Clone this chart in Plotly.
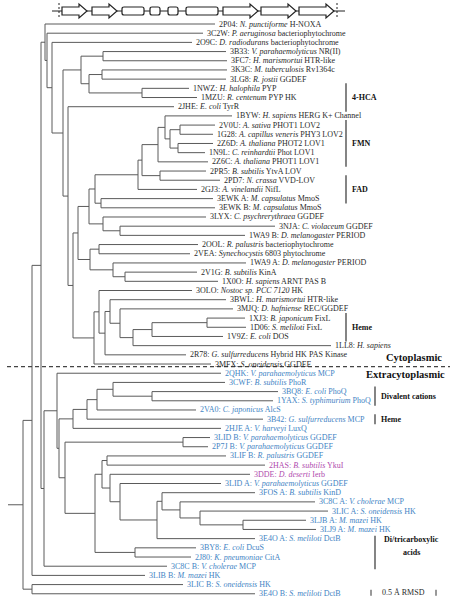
import plotly.graph_objects as go

# ---------------- data ----------------
leaf_ids = ["2P04", "3C2W", "2O9C", "3B33", "3FC7", "3K3C", "3LG8", "1NWZ", "1MZU", "2JHE",
            "1BYW", "2V0U", "1G28", "2Z6D", "1N9L", "2Z6C", "2PR5", "2PD7", "2GJ3", "3EWK A",
            "3EWK B", "3LYX", "3NJA", "1WA9 B", "2OOL", "2VEA", "1WA9 A", "2V1G", "1X0O", "3OLO",
            "3BWL", "3MJQ", "1XJ3", "1D06", "1V9Z", "1LL8", "2R78", "3MFX",
            "2QHK", "3CWF", "3BQ8", "1YAX", "2VA0", "3B42", "2HJE A", "3LID B", "2P7J B", "3LIF B",
            "2HAS", "3DDE", "3LID A", "3FOS A", "3C8C A", "3LIC A", "3LJB A", "3LJ9 A", "3E4O A",
            "3BY8", "2J80", "3C8C B", "3LIB B", "3LIC B", "3E4O B"]

leaf_desc = ["<i>N. punctiforme</i> H-NOXA", "<i>P. aeruginosa</i> bacteriophytochrome",
             "<i>D. radiodurans</i> bacteriophytochrome", "<i>V. parahaemolyticus</i> NR(II)",
             "<i>H. marismortui</i> HTR-like", "<i>M. tuberculosis</i> Rv1364c", "<i>R. jostii</i> GGDEF",
             "<i>H. halophila</i> PYP", "<i>R. centenum</i> PYP HK", "<i>E. coli</i> TyrR",
             "<i>H. sapiens</i> HERG K+ Channel", "<i>A. sativa</i> PHOT1 LOV2",
             "<i>A. capillus veneris</i> PHY3 LOV2", "<i>A. thaliana</i> PHOT2 LOV1",
             "<i>C. reinhardtii</i> Phot LOV1", "<i>A. thaliana</i> PHOT1 LOV1", "<i>B. subtilis</i> YtvA LOV",
             "<i>N. crassa</i> VVD-LOV", "<i>A. vinelandii</i> NifL", "<i>M. capsulatus</i> MmoS",
             "<i>M. capsulatus</i> MmoS", "<i>C. psychrerythraea</i> GGDEF", "<i>C. violaceum</i> GGDEF",
             "<i>D. melanogaster</i> PERIOD", "<i>R. palustris</i> bacteriophytochrome",
             "<i>Synechocystis</i> 6803 phytochrome", "<i>D. melanogaster</i> PERIOD", "<i>B. subtilis</i> KinA",
             "<i>H. sapiens</i> ARNT PAS B", "<i>Nostoc sp. PCC 7120</i> HK", "<i>H. marismortui</i> HTR-like",
             "<i>D. hafniense</i> REC/GGDEF", "<i>B. japonicum</i> FixL", "<i>S. meliloti</i> FixL",
             "<i>E. coli</i> DOS", "<i>H. sapiens</i>", "<i>G. sulfurreducens</i> Hybrid HK",
             "<i>S. oneidensis</i> GGDEF",
             "<i>V. parahaemolyticus</i> MCP", "<i>B. subtilis</i> PhoR", "<i>E. coli</i> PhoQ",
             "<i>S. typhimurium</i> PhoQ", "<i>C. japonicus</i> AlcS", "<i>G. sulfurreducens</i> MCP",
             "<i>V. harveyi</i> LuxQ", "<i>V. parahaemolyticus</i> GGDEF", "<i>V. parahaemolyticus</i> GGDEF",
             "<i>R. palustris</i> GGDEF", "<i>B. subtilis</i> YkuI", "<i>D. deserti</i> Ierb",
             "<i>V. parahaemolyticus</i> GGDEF", "<i>B. subtilis</i> KinD", "<i>V. cholerae</i> MCP",
             "<i>S. oneidensis</i> HK", "<i>M. mazei</i> HK", "<i>M. mazei</i> HK", "<i>S. meliloti</i> DctB",
             "<i>E. coli</i> DcuS", "<i>K. pneumoniae</i> CitA", "<i>V. cholerae</i> MCP",
             "<i>M. mazei</i> HK", "<i>S. oneidensis</i> HK", "<i>S. meliloti</i> DctB"]

# tip (branch end) positions, RMSD-scaled distance from the left of the panel
leaf_tip = [215, 203, 192, 226, 227, 227, 226, 189, 197, 174,
            232, 215, 213, 213, 205, 208, 206, 220, 197, 213,
            215, 206, 275, 245, 198, 190, 246, 197, 218, 192,
            226, 233, 245, 246, 223, 331, 186, 211,
            221, 225, 278, 273, 196, 263, 221, 210, 208, 226,
            265, 250, 221, 255, 315, 328, 306, 316, 255,
            196, 191, 167, 145, 183, 255]

# group of each leaf: 0 cytoplasmic, 1 extracytoplasmic, 2 extracytoplasmic (other)
leaf_group = [0] * 38 + [1] * 10 + [2, 2] + [1] * 13

# internal nodes (child lists), node depth
internal_nodes = [
    ("A", 103, ["3B33", "3FC7"]), ("B", 102, ["3K3C", "3LG8"]), ("D", 142, ["1NWZ", "1MZU"]),
    ("E", 89, ["B", "D"]), ("C", 81, ["A", "E"]),
    ("L1", 180, ["2V0U", "1G28"]), ("L2", 178, ["2Z6D", "1N9L"]), ("L3", 170, ["L1", "L2"]),
    ("L4", 165, ["1BYW", "L3"]), ("L5", 158, ["L4", "2Z6C"]), ("L6", 160, ["2PR5", "2PD7"]),
    ("L7", 142, ["L5", "L6"]), ("L8", 138, ["L7", "2GJ3"]), ("L9", 101, ["3EWK A", "3EWK B"]),
    ("L10", 95, ["L8", "L9"]),
    ("P1", 120, ["3NJA", "1WA9 B"]), ("P2", 103, ["3LYX", "P1"]), ("M1", 89, ["L10", "P2"]),
    ("P3", 125, ["2V1G", "1X0O"]), ("P4", 113, ["1WA9 A", "P3"]), ("P5", 99, ["2OOL", "2VEA"]),
    ("P6", 90, ["P5", "P4"]), ("M2", 78, ["M1", "P6"]),
    ("H1", 207, ["1XJ3", "1D06"]), ("H2", 152, ["H1", "1V9Z"]), ("H3", 133, ["H2", "1LL8"]),
    ("H4", 120, ["3MJQ", "H3"]), ("H5", 110, ["3BWL", "H4"]), ("H6", 105, ["H5", "2R78"]),
    ("H7", 99, ["3OLO", "H6"]), ("H8", 94, ["H7", "3MFX"]),
    ("M3", 73, ["M2", "H8"]), ("M4", 68, ["2JHE", "M3"]), ("M5", 63, ["C", "M4"]),
    ("Q1", 52, ["2O9C", "M5"]), ("Q2", 47, ["3C2W", "Q1"]), ("Q3", 45, ["2P04", "Q2"]),
    ("X1", 152, ["3BQ8", "1YAX"]), ("X2", 113, ["3CWF", "X1"]), ("X3", 97, ["X2", "2VA0"]),
    ("X4", 87, ["X3", "3B42"]), ("X5", 73, ["X4", "2HJE A"]),
    ("Y1", 183, ["3LID B", "2P7J B"]), ("Z1", 107, ["3LIF B", "2HAS"]),
    ("Z2", 243, ["3LJB A", "3LJ9 A"]), ("Z3", 200, ["3LIC A", "Z2"]), ("Z4", 180, ["3C8C A", "Z3"]),
    ("Z5", 162, ["3FOS A", "Z4"]), ("Z6", 157, ["Z5", "3E4O A"]), ("Z7", 120, ["3LID A", "Z6"]),
    ("Z8", 110, ["3DDE", "Z7"]), ("Z9", 102, ["Z1", "Z8"]), ("Z10", 135, ["3BY8", "2J80"]),
    ("Z11", 95, ["Z9", "Z10"]), ("Y2", 65, ["Y1", "Z11"]), ("X6", 59, ["X5", "Y2"]),
    ("X7", 57, ["2QHK", "X6"]), ("X8", 44, ["X7", "3C8C B"]),
    ("N2", 41, ["Q3", "X8"]), ("N1", 32, ["N2", "3LIB B"]), ("R0", 32, ["3LIC B", "3E4O B"]),
    ("ROOT", 23, ["N1", "R0"]),
]

# ligand brackets: label lines, first leaf, last leaf
brackets = [
    (["4-HCA"], "1NWZ", "2JHE"),
    (["FMN"], "2V0U", "2Z6C"),
    (["FAD"], "2PD7", "3EWK A"),
    (["Heme"], "1XJ3", "1V9Z"),
    (["Divalent cations"], "3BQ8", "1YAX"),
    (["Heme"], "3B42", "3B42"),
    (["Di/tricarboxylic", "acids"], "3E4O A", "3C8C B"),
]

# operon map at top: gene start, gene end, kind
gene_start = [62, 92, 122, 150, 168, 186, 223, 261, 299]
gene_end = [87, 117, 144, 160, 178, 218, 258, 296, 334]
gene_kind = ["arrow", "arrow", "box", "box", "box", "box", "arrow", "arrow", "arrow"]

# ---------------- layout helpers ----------------
W, H = 450, 604
Y0, DY = 24, 9.19
LINE = "#5a5a5a"
TXT = "#2a2a2a"
BLUE = "#4384c4"
PURPLE = "#b04aae"
FONT = "Liberation Serif"

ys, xs = {}, {}
for i, lid in enumerate(leaf_ids):
    ys[lid] = Y0 + i * DY
    xs[lid] = leaf_tip[i]

lx, ly = [], []
for name, nx, ch in internal_nodes:
    cy = [ys[c] for c in ch]
    ys[name] = (min(cy) + max(cy)) / 2
    xs[name] = nx
    lx += [nx, nx, None]
    ly += [min(cy), max(cy), None]
    for c in ch:
        lx += [nx, xs[c], None]
        ly += [ys[c], ys[c], None]
# root stub
lx += [xs["ROOT"] - 15, xs["ROOT"], None]
ly += [ys["ROOT"], ys["ROOT"], None]

fig = go.Figure()
fig.add_trace(go.Scatter(x=lx, y=ly, mode="lines", line=dict(color=LINE, width=1),
                         hoverinfo="skip", showlegend=False))

annotations = []
colors = {0: TXT, 1: BLUE, 2: PURPLE}
for i, lid in enumerate(leaf_ids):
    annotations.append(dict(x=xs[lid] + 1.5, y=ys[lid], xref="x", yref="y",
                            text=f"{lid}: {leaf_desc[i]}", showarrow=False,
                            xanchor="left", yanchor="middle",
                            font=dict(family=FONT, size=8, color=colors[leaf_group[i]])))
# continuation of 1LL8 label
annotations.append(dict(x=307, y=ys["2R78"], text="PAS Kinase", showarrow=False,
                        xanchor="left", yanchor="middle",
                        font=dict(family=FONT, size=8, color=TXT)))

shapes = []
# brackets
for lines, a, b in brackets:
    extra = ys[a] > ys["3MFX"]
    bx = 375 if extra else 346
    if len(lines) == 1:
        y1, y2 = ys[a] - 5, ys[b] + 5
        mid = (y1 + y2) / 2
        annotations.append(dict(x=bx + 4, y=mid, text=f"<b>{lines[0]}</b>", showarrow=False,
                                xanchor="left", yanchor="middle",
                                font=dict(family=FONT, size=8, color="#111")))
    else:
        y1, y2 = ys[a] - 3, ys[b] + 3
        for k, t in enumerate(lines):
            annotations.append(dict(x=411, y=ys[a] + 1 + k * 12.5, text=f"<b>{t}</b>",
                                    showarrow=False, xanchor="center", yanchor="middle",
                                    font=dict(family=FONT, size=8, color="#111")))
    shapes.append(dict(type="line", x0=bx, x1=bx, y0=y1, y1=y2, xref="x", yref="y",
                       line=dict(color="#333", width=1.2)))

# cytoplasmic / extracytoplasmic divider
ydiv = (ys["3MFX"] + ys["2QHK"]) / 2 - 2
shapes.append(dict(type="line", x0=7, x1=450, y0=ydiv, y1=ydiv, xref="x", yref="y",
                   line=dict(color="#444", width=1.3, dash="4px,3px")))
annotations.append(dict(x=444, y=ydiv - 9, text="<b>Cytoplasmic</b>", showarrow=False,
                        xanchor="right", yanchor="middle",
                        font=dict(family=FONT, size=10.5, color="#111")))
annotations.append(dict(x=447, y=ydiv + 8, text="<b>Extracytoplasmic</b>", showarrow=False,
                        xanchor="right", yanchor="middle",
                        font=dict(family=FONT, size=10.5, color="#111")))

# scale bar
ysb = ys["3E4O B"] - 1
for tx in (371, 436):
    shapes.append(dict(type="line", x0=tx, x1=tx, y0=ysb - 3, y1=ysb + 3, xref="x", yref="y",
                       line=dict(color="#333", width=1)))
annotations.append(dict(x=403, y=ysb, text="0.5 Å RMSD", showarrow=False,
                        xanchor="center", yanchor="middle",
                        font=dict(family=FONT, size=8, color=TXT)))

# operon map
GY = 11
shapes.append(dict(type="line", x0=52, x1=345, y0=GY, y1=GY, xref="x", yref="y",
                   line=dict(color="#222", width=1)))
for tx in (59, 337):
    shapes.append(dict(type="line", x0=tx, x1=tx, y0=GY - 8, y1=GY + 8, xref="x", yref="y",
                       line=dict(color="#222", width=1, dash="2px,2px")))
for s, e, k in zip(gene_start, gene_end, gene_kind):
    if k == "arrow":
        hx = e - 8
        path = (f"M {s},{GY-4} L {hx},{GY-4} L {hx},{GY-7} L {e},{GY} L {hx},{GY+7} "
                f"L {hx},{GY+4} L {s},{GY+4} Z")
    else:
        r = 2
        path = (f"M {s+r},{GY-4} L {e-r},{GY-4} Q {e},{GY-4} {e},{GY-4+r} L {e},{GY+4-r} "
                f"Q {e},{GY+4} {e-r},{GY+4} L {s+r},{GY+4} Q {s},{GY+4} {s},{GY+4-r} "
                f"L {s},{GY-4+r} Q {s},{GY-4} {s+r},{GY-4} Z")
    shapes.append(dict(type="path", path=path, xref="x", yref="y",
                       fillcolor="white", line=dict(color="#222", width=1.2)))

fig.update_layout(
    width=W, height=H, margin=dict(l=0, r=0, t=0, b=0),
    paper_bgcolor="white", plot_bgcolor="white",
    xaxis=dict(range=[0, W], visible=False, fixedrange=True),
    yaxis=dict(range=[H, 0], visible=False, fixedrange=True),
    shapes=shapes, annotations=annotations, showlegend=False,
)
fig.write_html("out.html", config={"displayModeBar": False},
               post_script="document.body.style.margin='0';document.body.style.overflow='hidden';")
